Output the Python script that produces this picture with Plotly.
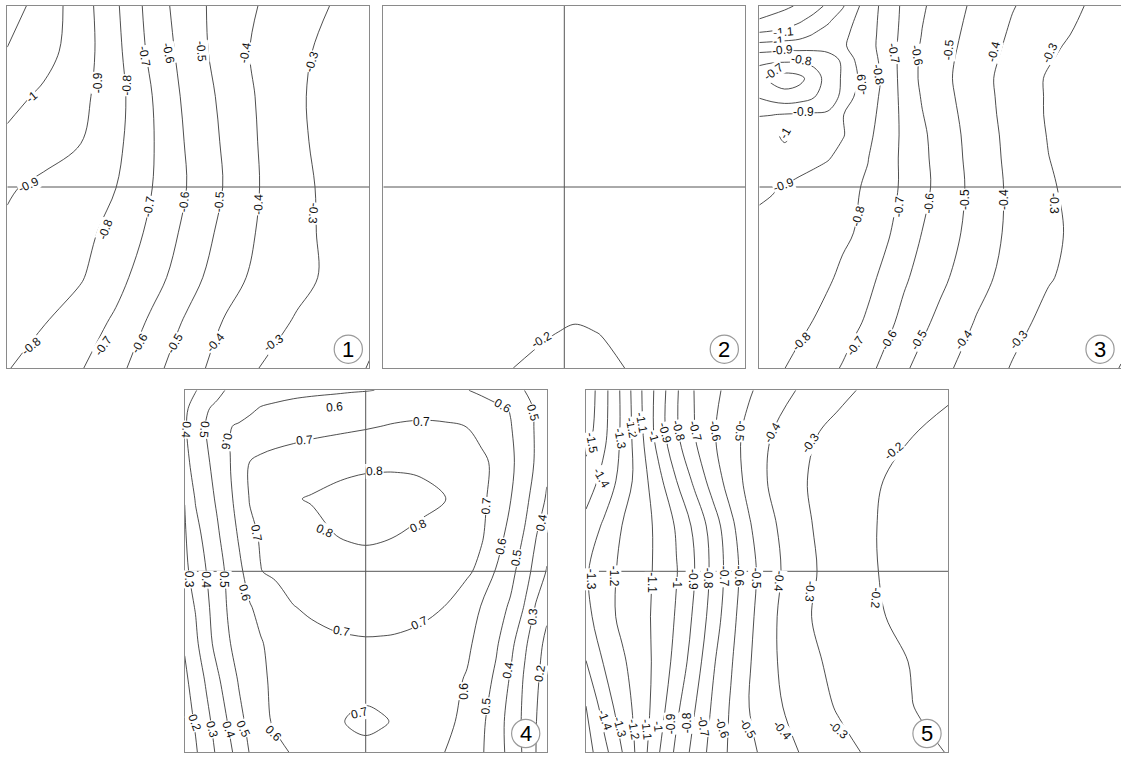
import plotly.graph_objects as go

# ---------------- data ----------------
# u = fraction across a panel (left -> right), v = fraction down a panel (top -> bottom)

P1_U = [0, 0.1, 0.2, 0.3, 0.4, 0.5, 0.6, 0.7, 0.8, 0.9, 1.0]
P1_V = [0, 0.125, 0.25, 0.375, 0.5, 0.625, 0.75, 0.875, 1.0]
P1_Z = [
    [-1.15, -1.055, -0.953, -0.815, -0.657, -0.54, -0.46, -0.395, -0.345, -0.295, -0.245],
    [-1.095, -1.036, -0.953, -0.827, -0.673, -0.555, -0.455, -0.376, -0.322, -0.27, -0.24],
    [-1.03, -0.983, -0.928, -0.8375, -0.701, -0.571, -0.476, -0.386, -0.314, -0.26, -0.23],
    [-0.98, -0.94, -0.905, -0.825, -0.707, -0.586, -0.487, -0.392, -0.32, -0.26, -0.23],
    [-0.91, -0.88, -0.84, -0.801, -0.701, -0.595, -0.495, -0.397, -0.33, -0.27, -0.24],
    [-0.885, -0.862, -0.826, -0.772, -0.677, -0.571, -0.472, -0.388, -0.329, -0.275, -0.24],
    [-0.86, -0.83, -0.81, -0.733, -0.64, -0.54, -0.44, -0.373, -0.327, -0.28, -0.24],
    [-0.82, -0.804, -0.753, -0.683, -0.58, -0.481, -0.393, -0.341, -0.29, -0.25, -0.215],
    [-0.805, -0.755, -0.709, -0.63, -0.532, -0.436, -0.36, -0.297, -0.263, -0.23, -0.197],
]

P2_U = [0, 0.2, 0.35, 0.45, 0.53, 0.6, 0.67, 0.8, 1.0]
P2_V = [0, 0.5, 0.8, 0.9, 1.0]
P2_Z = [
    [-0.26, -0.26, -0.26, -0.26, -0.26, -0.26, -0.26, -0.26, -0.26],
    [-0.25, -0.25, -0.25, -0.25, -0.25, -0.25, -0.25, -0.25, -0.25],
    [-0.235, -0.23, -0.225, -0.22, -0.215, -0.218, -0.222, -0.228, -0.235],
    [-0.23, -0.222, -0.213, -0.203, -0.196, -0.201, -0.21, -0.222, -0.23],
    [-0.225, -0.215, -0.201, -0.19, -0.185, -0.19, -0.2005, -0.212, -0.22],
]

P3_U = [0, 0.035, 0.07, 0.11, 0.15, 0.19, 0.23, 0.26, 0.3, 0.35, 0.4, 0.45, 0.5, 0.6, 0.7, 0.8, 0.9, 1.0]
P3_V = [0, 0.04, 0.08, 0.11, 0.15, 0.2, 0.25, 0.3, 0.356, 0.42, 0.5, 0.625, 0.75, 0.875, 1.0]
P3_Z = [
    [-1.28, -1.251, -1.223, -1.185, -1.137, -1.082, -1.011, -0.935, -0.853, -0.764, -0.68, -0.612, -0.563, -0.478, -0.405, -0.352, -0.299, -0.26],
    [-1.19, -1.165, -1.141, -1.113, -1.07, -1.015, -0.951, -0.902, -0.843, -0.762, -0.676, -0.604, -0.556, -0.469, -0.395, -0.34, -0.29, -0.255],
    [-1.08, -1.075, -1.065, -1.04, -0.993, -0.956, -0.919, -0.8875, -0.8375, -0.76, -0.67, -0.597, -0.549, -0.46, -0.386, -0.329, -0.28, -0.25],
    [-0.965, -0.955, -0.945, -0.94, -0.935, -0.93, -0.912, -0.88, -0.834, -0.758, -0.665, -0.59, -0.543, -0.454, -0.379, -0.318, -0.27, -0.245],
    [-0.825, -0.822, -0.818, -0.82, -0.83, -0.865, -0.91, -0.905, -0.849, -0.764, -0.66, -0.585, -0.536, -0.445, -0.37, -0.306, -0.26, -0.24],
    [-0.74, -0.675, -0.65, -0.67, -0.75, -0.84, -0.91, -0.915, -0.865, -0.773, -0.659, -0.583, -0.532, -0.438, -0.359, -0.29, -0.255, -0.235],
    [-0.79, -0.76, -0.735, -0.75, -0.79, -0.86, -0.915, -0.902, -0.848, -0.767, -0.668, -0.593, -0.54, -0.442, -0.361, -0.29, -0.255, -0.235],
    [-0.895, -0.898, -0.905, -0.91, -0.912, -0.91, -0.903, -0.878, -0.833, -0.762, -0.675, -0.604, -0.55, -0.449, -0.362, -0.29, -0.255, -0.235],
    [-0.95, -0.965, -1.025, -0.965, -0.95, -0.935, -0.907, -0.87, -0.821, -0.751, -0.681, -0.617, -0.56, -0.456, -0.368, -0.295, -0.26, -0.24],
    [-0.94, -0.945, -0.95, -0.94, -0.925, -0.906, -0.872, -0.843, -0.803, -0.739, -0.682, -0.622, -0.565, -0.461, -0.372, -0.301, -0.26, -0.24],
    [-0.91, -0.905, -0.896, -0.878, -0.86, -0.843, -0.825, -0.812, -0.788, -0.736, -0.683, -0.626, -0.571, -0.467, -0.378, -0.309, -0.27, -0.245],
    [-0.885, -0.878, -0.87, -0.86, -0.848, -0.835, -0.818, -0.801, -0.763, -0.715, -0.659, -0.599, -0.554, -0.46, -0.376, -0.314, -0.28, -0.255],
    [-0.87, -0.862, -0.855, -0.845, -0.83, -0.812, -0.782, -0.757, -0.724, -0.675, -0.614, -0.567, -0.523, -0.433, -0.363, -0.306, -0.27, -0.245],
    [-0.85, -0.843, -0.834, -0.821, -0.797, -0.769, -0.741, -0.72, -0.686, -0.627, -0.572, -0.521, -0.475, -0.393, -0.327, -0.276, -0.245, -0.22],
    [-0.847, -0.824, -0.801, -0.775, -0.749, -0.722, -0.694, -0.664, -0.625, -0.572, -0.515, -0.469, -0.427, -0.354, -0.294, -0.263, -0.232, -0.198],
]

P4_U = [0, 0.03, 0.06, 0.09, 0.12, 0.15, 0.18, 0.21, 0.25, 0.3, 0.35, 0.42, 0.46, 0.5, 0.54, 0.58, 0.65, 0.72, 0.78, 0.82, 0.86, 0.9, 0.94, 0.97, 1.0]
P4_V = [0, 0.05, 0.1, 0.2, 0.3, 0.4, 0.5, 0.6, 0.7, 0.8, 0.915, 1.0]
P4_Z = [
    [0.38, 0.396, 0.433, 0.477, 0.51, 0.53, 0.545, 0.557, 0.568, 0.578, 0.584, 0.59, 0.594, 0.597, 0.602, 0.607, 0.615, 0.612, 0.603, 0.58, 0.553, 0.527, 0.499, 0.48, 0.46],
    [0.385, 0.432, 0.492, 0.519, 0.541, 0.563, 0.585, 0.605, 0.615, 0.625, 0.632, 0.64, 0.645, 0.65, 0.657, 0.665, 0.672, 0.67, 0.66, 0.645, 0.62, 0.595, 0.53, 0.49, 0.455],
    [0.39, 0.45, 0.507, 0.55, 0.594, 0.61, 0.625, 0.635, 0.645, 0.655, 0.665, 0.678, 0.685, 0.692, 0.70, 0.708, 0.715, 0.71, 0.699, 0.67, 0.635, 0.605, 0.545, 0.49, 0.45],
    [0.375, 0.43, 0.484, 0.536, 0.588, 0.646, 0.703, 0.72, 0.735, 0.75, 0.765, 0.777, 0.783, 0.787, 0.789, 0.79, 0.787, 0.775, 0.75, 0.72, 0.68, 0.62, 0.545, 0.49, 0.42],
    [0.302, 0.407, 0.46, 0.514, 0.572, 0.638, 0.705, 0.725, 0.75, 0.795, 0.805, 0.82, 0.826, 0.83, 0.83, 0.828, 0.82, 0.801, 0.755, 0.718, 0.668, 0.603, 0.526, 0.456, 0.39],
    [0.29, 0.368, 0.43, 0.487, 0.548, 0.61, 0.68, 0.708, 0.73, 0.755, 0.775, 0.801, 0.81, 0.815, 0.81, 0.802, 0.785, 0.765, 0.74, 0.71, 0.645, 0.565, 0.49, 0.405, 0.33],
    [0.28, 0.335, 0.401, 0.46, 0.52, 0.58, 0.637, 0.698, 0.715, 0.735, 0.748, 0.758, 0.761, 0.762, 0.762, 0.76, 0.752, 0.738, 0.715, 0.675, 0.594, 0.532, 0.44, 0.365, 0.295],
    [0.255, 0.305, 0.378, 0.454, 0.507, 0.551, 0.594, 0.622, 0.655, 0.697, 0.712, 0.725, 0.728, 0.73, 0.73, 0.728, 0.718, 0.698, 0.642, 0.594, 0.545, 0.485, 0.39, 0.29, 0.23],
    [0.21, 0.28, 0.362, 0.432, 0.492, 0.528, 0.561, 0.594, 0.625, 0.655, 0.675, 0.688, 0.691, 0.693, 0.692, 0.69, 0.68, 0.662, 0.618, 0.565, 0.513, 0.43, 0.313, 0.25, 0.17],
    [0.18, 0.245, 0.312, 0.383, 0.45, 0.508, 0.545, 0.582, 0.62, 0.64, 0.65, 0.655, 0.658, 0.66, 0.658, 0.655, 0.648, 0.632, 0.592, 0.544, 0.482, 0.39, 0.285, 0.22, 0.15],
    [0.16, 0.209, 0.274, 0.339, 0.405, 0.475, 0.526, 0.566, 0.615, 0.645, 0.665, 0.685, 0.712, 0.725, 0.712, 0.692, 0.66, 0.625, 0.57, 0.522, 0.44, 0.37, 0.275, 0.205, 0.12],
    [0.15, 0.19, 0.25, 0.315, 0.372, 0.44, 0.505, 0.532, 0.568, 0.61, 0.64, 0.66, 0.665, 0.67, 0.665, 0.66, 0.635, 0.599, 0.545, 0.51, 0.445, 0.37, 0.28, 0.201, 0.12],
]

P5_U = [0, 0.05, 0.1, 0.15, 0.2, 0.25, 0.3, 0.35, 0.4, 0.45, 0.5, 0.6, 0.7, 0.8, 0.9, 1.0]
P5_V = [0, 0.125, 0.25, 0.375, 0.5, 0.625, 0.75, 0.875, 1.0]
P5_Z = [
    [-1.57, -1.432, -1.279, -1.113, -0.961, -0.812, -0.696, -0.628, -0.567, -0.511, -0.465, -0.383, -0.32, -0.277, -0.244, -0.21],
    [-1.543, -1.421, -1.281, -1.127, -0.958, -0.816, -0.701, -0.612, -0.538, -0.471, -0.411, -0.318, -0.272, -0.237, -0.201, -0.18],
    [-1.45, -1.369, -1.263, -1.15, -1.032, -0.901, -0.779, -0.656, -0.555, -0.471, -0.401, -0.306, -0.254, -0.205, -0.181, -0.16],
    [-1.37, -1.283, -1.198, -1.142, -1.079, -0.989, -0.878, -0.757, -0.625, -0.511, -0.431, -0.316, -0.254, -0.201, -0.175, -0.15],
    [-1.31, -1.242, -1.18, -1.135, -1.082, -1.005, -0.901, -0.775, -0.65, -0.5375, -0.447, -0.326, -0.258, -0.202, -0.176, -0.15],
    [-1.33, -1.241, -1.177, -1.132, -1.075, -0.99, -0.883, -0.757, -0.633, -0.526, -0.434, -0.313, -0.257, -0.209, -0.177, -0.15],
    [-1.402, -1.292, -1.215, -1.147, -1.07, -0.967, -0.852, -0.715, -0.61, -0.51, -0.429, -0.329, -0.274, -0.235, -0.196, -0.16],
    [-1.502, -1.357, -1.248, -1.158, -1.05, -0.921, -0.805, -0.687, -0.591, -0.501, -0.4375, -0.352, -0.29, -0.246, -0.202, -0.17],
    [-1.545, -1.432, -1.301, -1.156, -1.009, -0.878, -0.767, -0.665, -0.584, -0.524, -0.473, -0.39, -0.33, -0.279, -0.2375, -0.196],
]

PANEL_NAMES = ["1", "2", "3", "4", "5"]
LEVEL_START = [-1.1, -0.3, -1.2, 0.2, -1.5]
LEVEL_END = [-0.2, -0.1, -0.2, 0.8, -0.2]

# contour labels: (text, u, v, angle)
P1_LABELS = [
    ("-1", 0.067, 0.25, -40), ("-0.9", 0.251, 0.213, -90), ("-0.8", 0.33, 0.218, -88),
    ("-0.7", 0.38, 0.14, 80), ("-0.6", 0.445, 0.13, 78), ("-0.5", 0.537, 0.126, 85),
    ("-0.4", 0.657, 0.13, -80), ("-0.3", 0.84, 0.154, -72),
    ("-0.9", 0.058, 0.494, -25), ("-0.8", 0.27, 0.618, -70), ("-0.7", 0.39, 0.554, -80),
    ("-0.6", 0.49, 0.54, -85), ("-0.5", 0.587, 0.54, -85), ("-0.4", 0.693, 0.549, -88),
    ("-0.3", 0.845, 0.572, 95),
    ("-0.8", 0.067, 0.94, -40), ("-0.7", 0.265, 0.94, -55), ("-0.6", 0.366, 0.931, -60),
    ("-0.5", 0.463, 0.931, -60), ("-0.4", 0.574, 0.931, -50), ("-0.3", 0.735, 0.931, -35),
]
P2_LABELS = [("-0.2", 0.436, 0.922, -30)]
P3_LABELS = [
    ("-1.1", 0.067, 0.071, -5), ("-1", 0.052, 0.096, -5), ("-0.9", 0.065, 0.122, -5),
    ("-0.8", 0.116, 0.149, 10), ("-0.7", 0.038, 0.181, -35), ("-0.9", 0.121, 0.292, 0),
    ("-1", 0.072, 0.351, -60),
    ("-0.9", 0.284, 0.218, -95), ("-0.8", 0.33, 0.19, 80), ("-0.7", 0.371, 0.131, 80),
    ("-0.6", 0.436, 0.135, 80), ("-0.5", 0.523, 0.121, -85), ("-0.4", 0.647, 0.126, -75),
    ("-0.3", 0.804, 0.131, -65),
    ("-0.9", 0.067, 0.494, -20), ("-0.8", 0.274, 0.581, -75), ("-0.7", 0.385, 0.554, -85),
    ("-0.6", 0.47, 0.545, -85), ("-0.5", 0.567, 0.535, -90), ("-0.4", 0.675, 0.535, -90),
    ("-0.3", 0.813, 0.545, 90),
    ("-0.8", 0.118, 0.926, -45), ("-0.7", 0.265, 0.94, -55), ("-0.6", 0.357, 0.922, -60),
    ("-0.5", 0.44, 0.922, -60), ("-0.4", 0.564, 0.922, -55), ("-0.3", 0.716, 0.922, -50),
]
P4_LABELS = [
    ("0.6", 0.414, 0.045, -5), ("0.4", 0.005, 0.109, 95), ("0.5", 0.055, 0.109, 95),
    ("0.6", 0.115, 0.141, 100), ("0.7", 0.332, 0.136, -5), ("0.7", 0.654, 0.088, 0),
    ("0.6", 0.879, 0.044, 30), ("0.5", 0.962, 0.063, 75), ("0.8", 0.525, 0.224, -3),
    ("0.7", 0.198, 0.394, 80), ("0.8", 0.387, 0.39, 25), ("0.8", 0.645, 0.376, -25),
    ("0.7", 0.833, 0.32, -85), ("0.4", 0.985, 0.366, -80), ("0.6", 0.875, 0.431, -80),
    ("0.5", 0.916, 0.463, -80), ("0.3", 0.014, 0.523, 90), ("0.4", 0.06, 0.523, 90),
    ("0.5", 0.11, 0.523, 90), ("0.6", 0.166, 0.56, 75), ("0.7", 0.433, 0.666, 10),
    ("0.7", 0.649, 0.643, -25), ("0.3", 0.962, 0.624, -85), ("0.6", 0.773, 0.831, -90),
    ("0.4", 0.893, 0.772, -80), ("0.2", 0.981, 0.781, -80), ("0.5", 0.833, 0.873, -85),
    ("0.7", 0.483, 0.891, -15), ("0.2", 0.028, 0.919, 70), ("0.3", 0.074, 0.937, 75),
    ("0.4", 0.12, 0.937, 70), ("0.5", 0.161, 0.937, 65), ("0.6", 0.244, 0.947, 45),
]
P5_LABELS = [
    ("-1.5", 0.016, 0.146, 80), ("-1.4", 0.043, 0.242, 60), ("-1.3", 0.094, 0.132, 80),
    ("-1.2", 0.126, 0.104, 80), ("-1.1", 0.154, 0.09, 80), ("-1", 0.186, 0.127, 75),
    ("-0.9", 0.219, 0.117, 75), ("-0.8", 0.256, 0.112, 75), ("-0.7", 0.302, 0.112, 75),
    ("-0.6", 0.357, 0.112, 80), ("-0.5", 0.426, 0.112, 95), ("-0.4", 0.514, 0.118, -60),
    ("-0.3", 0.62, 0.146, -55), ("-0.2", 0.851, 0.169, -40),
    ("-1.3", 0.016, 0.523, 90), ("-1.2", 0.076, 0.514, 90), ("-1.1", 0.182, 0.533, 90),
    ("-1", 0.251, 0.533, 90), ("-0.9", 0.297, 0.523, 90), ("-0.8", 0.339, 0.52, 90),
    ("-0.7", 0.38, 0.514, 90), ("-0.6", 0.422, 0.514, 90), ("-0.5", 0.468, 0.519, 90),
    ("-0.4", 0.532, 0.528, 95), ("-0.3", 0.62, 0.556, 95), ("-0.2", 0.80, 0.574, 95),
    ("-1.4", 0.053, 0.91, 70), ("-1.3", 0.094, 0.929, 75), ("-1.2", 0.131, 0.937, 80),
    ("-1.1", 0.168, 0.938, 85), ("-1", 0.2, 0.929, 85), ("-0.9", 0.237, 0.92, -90),
    ("-0.8", 0.279, 0.92, -90), ("-0.7", 0.325, 0.929, 80), ("-0.6", 0.375, 0.934, 70),
    ("-0.5", 0.445, 0.934, 60), ("-0.4", 0.542, 0.938, 50), ("-0.3", 0.698, 0.938, 40),
]

# ---------------- layout geometry (pixels) ----------------
W, H = 1121, 758
PANEL_PX = [  # left, right, top, bottom
    (7.3, 369.3, 6, 368),
    (383.3, 745.3, 6, 368),
    (759.3, 1121.0, 6, 368),
    (184.7, 546.7, 390.3, 752.3),
    (586.0, 948.0, 390.3, 752.3),
]
CROSS_H = [True, True, True, True, True]
CROSS_V = [False, True, False, True, False]

DATA = [(P1_U, P1_V, P1_Z), (P2_U, P2_V, P2_Z), (P3_U, P3_V, P3_Z),
        (P4_U, P4_V, P4_Z), (P5_U, P5_V, P5_Z)]
LABELS = [P1_LABELS, P2_LABELS, P3_LABELS, P4_LABELS, P5_LABELS]
FONT = "Arial, Liberation Sans, sans-serif"

fig = go.Figure()
shapes = []
annotations = []
layout_axes = {}

for i, ((U, V, Z), (l, r, t, b)) in enumerate(zip(DATA, PANEL_PX)):
    n = "" if i == 0 else str(i + 1)
    xa, ya = "x" + n, "y" + n
    fig.add_trace(go.Contour(
        x=U, y=V, z=Z, xaxis=xa, yaxis=ya,
        autocontour=False,
        contours=dict(start=LEVEL_START[i], end=LEVEL_END[i], size=0.1,
                      coloring="none", showlabels=False),
        line=dict(color="#222", width=0.8, smoothing=1),
        showscale=False, hoverinfo="skip",
    ))
    axcommon = dict(showticklabels=False, showgrid=False, zeroline=False,
                    showline=True, mirror=True, linecolor="#8a8a8a",
                    linewidth=1, ticks="", fixedrange=True)
    layout_axes["xaxis" + n] = dict(domain=[l / W, min(r / W, 1.0)], range=[0, 1],
                                    anchor=ya, **axcommon)
    layout_axes["yaxis" + n] = dict(domain=[1 - b / H, 1 - t / H], range=[1, 0],
                                    anchor=xa, **axcommon)
    if CROSS_H[i]:
        shapes.append(dict(type="line", xref=xa, yref=ya, x0=0, x1=1, y0=0.5, y1=0.5,
                           line=dict(color="#555", width=1)))
    if CROSS_V[i]:
        shapes.append(dict(type="line", xref=xa, yref=ya, x0=0.5, x1=0.5, y0=0, y1=1,
                           line=dict(color="#555", width=1)))
    # contour labels (white box interrupts the line, like the original)
    for (txt, u, v, ang) in LABELS[i]:
        annotations.append(dict(xref=xa, yref=ya, x=u, y=v, text=txt, textangle=ang,
                                showarrow=False, bgcolor="white", borderpad=0,
                                font=dict(size=12, color="#111", family=FONT)))
    cx, cy, rad = 0.942, 0.948, 0.039
    shapes.append(dict(type="circle", xref=xa, yref=ya, x0=cx - rad, x1=cx + rad,
                       y0=cy - rad, y1=cy + rad, fillcolor="white",
                       line=dict(color="#9a9a9a", width=1.2), layer="above"))
    annotations.append(dict(xref=xa, yref=ya, x=cx, y=cy, text=PANEL_NAMES[i],
                            showarrow=False, font=dict(size=22, color="black", family=FONT)))

fig.update_layout(
    width=W, height=H, margin=dict(l=0, r=0, t=0, b=0),
    paper_bgcolor="white", plot_bgcolor="white", showlegend=False,
    shapes=shapes, annotations=annotations, **layout_axes,
)

fig.write_html("out.html", config={"displayModeBar": False},
               post_script="document.body.style.margin='0px';document.body.style.overflow='hidden';")
